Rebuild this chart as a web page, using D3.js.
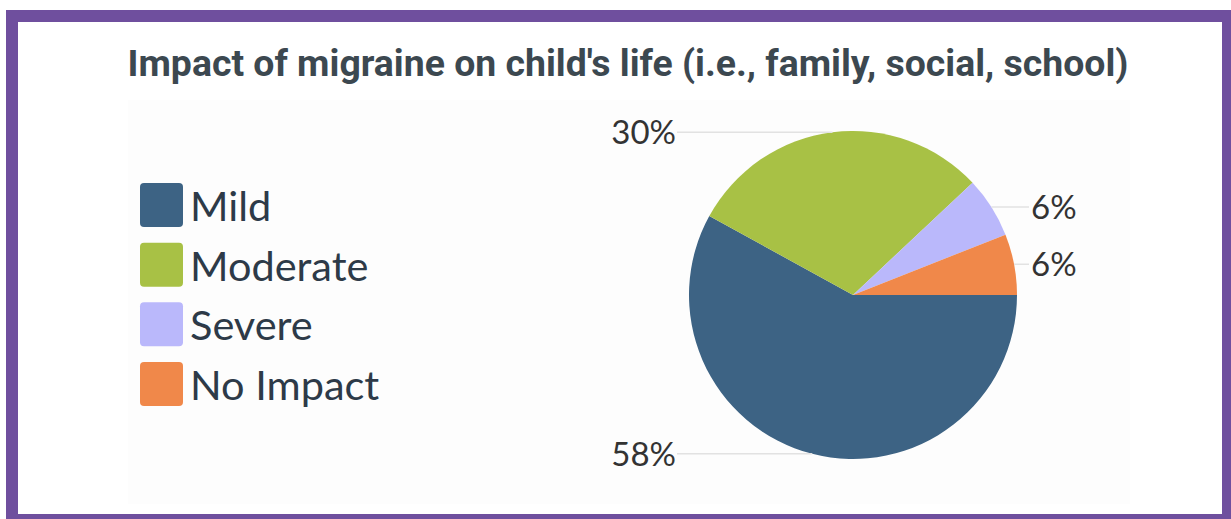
<!DOCTYPE html>
<html>
<head>
<meta charset="utf-8">
<script src="https://cdn.jsdelivr.net/npm/d3@7"></script>
<style>
  html, body { margin: 0; padding: 0; background: #fff; }
  svg { display: block; }
</style>
</head>
<body>
<script>
// data
const categories = ["Mild", "Moderate", "Severe", "No Impact"];
const values = [58, 30, 6, 6];
const colours = ["#3d6384", "#a8c145", "#bab8fb", "#f0884a"];
const title = "Impact of migraine on child's life (i.e., family, social, school)";

const width = 1231, height = 519;

const svg = d3.select("body").append("svg")
  .attr("width", width)
  .attr("height", height);

// faint panel behind the chart image
svg.append("rect")
  .attr("x", 128).attr("y", 100)
  .attr("width", 1002).attr("height", 404)
  .attr("fill", "#fdfdfd");

// purple frame
svg.append("rect")
  .attr("x", 12).attr("y", 16)
  .attr("width", 1216).attr("height", 504)
  .attr("fill", "none")
  .attr("stroke", "#6f4f9e")
  .attr("stroke-width", 12);

svg.append("text")
  .attr("x", 628).attr("y", 76)
  .attr("text-anchor", "middle")
  .attr("font-family", "Roboto")
  .attr("font-weight", "bold")
  .attr("font-size", 37.4)
  .attr("fill", "#3c4850")
  .text(title);

// legend
const colour = d3.scaleOrdinal().domain(categories).range(colours);
const legendY = d3.scalePoint().domain(categories).range([205, 384]);

const legend = svg.append("g").selectAll("g")
  .data(categories)
  .enter().append("g")
    .attr("transform", d => "translate(140," + legendY(d) + ")");

legend.append("rect")
  .attr("x", 0).attr("y", -22)
  .attr("width", 43).attr("height", 44)
  .attr("rx", 4)
  .attr("fill", d => colour(d));

legend.append("text")
  .attr("x", 50).attr("y", 16)
  .attr("font-family", "Lato")
  .attr("font-size", 41.5)
  .attr("fill", "#2d3a48")
  .text(d => d);

// pie
const cx = 853, cy = 295, r = 164;
const pie = d3.pie()
  .sort(null)
  .startAngle(Math.PI / 2)
  .endAngle(Math.PI / 2 + 2 * Math.PI);
const arc = d3.arc().innerRadius(0).outerRadius(r);
const arcs = pie(values);

const g = svg.append("g").attr("transform", "translate(" + cx + "," + cy + ")");

g.selectAll("path")
  .data(arcs)
  .enter().append("path")
    .attr("d", arc)
    .attr("fill", (d, i) => colour(categories[i]));

// data labels with leader lines
const total = d3.sum(values);
arcs.forEach(function(d) {
  const a = (d.startAngle + d.endAngle) / 2;
  const px = r * Math.sin(a), py = -r * Math.cos(a);
  const right = px > 0;
  const lx = right ? r + 12 : -(r + 12);
  g.append("line")
    .attr("x1", px).attr("y1", py)
    .attr("x2", lx).attr("y2", py)
    .attr("stroke", "#e2e2e2")
    .attr("stroke-width", 1.5);
  g.append("text")
    .attr("x", right ? lx + 2 : lx - 1)
    .attr("y", py + 12)
    .attr("text-anchor", right ? "start" : "end")
    .attr("font-family", "Lato")
    .attr("font-size", 33)
    .attr("fill", "#333")
    .text(Math.round(d.data / total * 100) + "%");
});
</script>
</body>
</html>
